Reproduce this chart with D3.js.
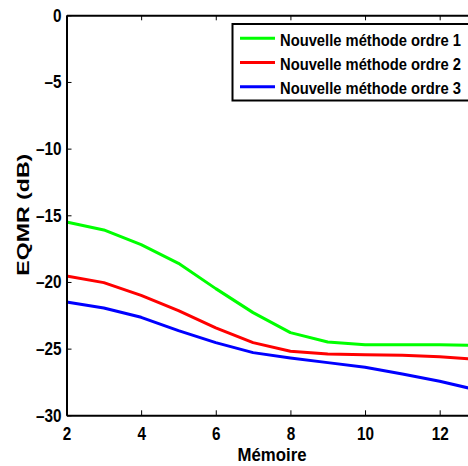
<!DOCTYPE html>
<html>
<head>
<meta charset="utf-8">
<script src="https://cdn.jsdelivr.net/npm/d3@7"></script>
<style>
  html, body { margin: 0; padding: 0; background: #fff; overflow: hidden; }
  text { font-family: "Liberation Sans", Arial, sans-serif; font-weight: bold; }
</style>
</head>
<body>
<div id="viz"></div>
<script>
// memory order (x) and EQMR in dB for each method
const memoire = [2, 3, 4, 5, 6, 7, 8, 9, 10, 11, 12, 13];
const ordre1 = [-15.5, -16.1, -17.2, -18.6, -20.5, -22.3, -23.8, -24.5, -24.7, -24.7, -24.7, -24.75];
const ordre2 = [-19.55, -20.05, -21.0, -22.15, -23.45, -24.55, -25.2, -25.4, -25.45, -25.5, -25.6, -25.8];
const ordre3 = [-21.5, -21.95, -22.65, -23.65, -24.55, -25.3, -25.7, -26.05, -26.4, -26.9, -27.45, -28.1];
const seriesNames = ["Nouvelle méthode ordre 1", "Nouvelle méthode ordre 2", "Nouvelle méthode ordre 3"];
const seriesColors = ["#00ff00", "#ff0000", "#0000ff"];
const xTicks = [2, 4, 6, 8, 10, 12];
const yTicks = [0, -5, -10, -15, -20, -25, -30];

const width = 468, height = 466;
const margin = { left: 66.5, top: 15.3 };
const plotW = 410.5, plotH = 400;

const svg = d3.select("#viz").append("svg")
  .attr("width", width)
  .attr("height", height);

const x = d3.scaleLinear().domain([2, 13]).range([margin.left, margin.left + plotW]);
const y = d3.scaleLinear().domain([-30, 0]).range([margin.top + plotH, margin.top]);

const series = [ordre1, ordre2, ordre3];

// squeeze text horizontally (the original font is a narrow helvetica)
function condense(sel, f) {
  sel.each(function () {
    const w = this.getComputedTextLength();
    this.setAttribute("textLength", w * f);
    this.setAttribute("lengthAdjust", "spacingAndGlyphs");
  });
}

// lines
const line = d3.line()
  .x((d, i) => x(memoire[i]))
  .y(d => y(d));

svg.append("g")
  .selectAll("path")
  .data(series)
  .join("path")
  .attr("d", line)
  .attr("fill", "none")
  .attr("stroke", (d, i) => seriesColors[i])
  .attr("stroke-width", 3)
  .attr("stroke-linejoin", "round");

// axes (ticks inside, matlab style)
const gBottom = svg.append("g")
  .attr("transform", `translate(0,${y(-30)})`)
  .call(d3.axisBottom(x).tickValues(xTicks).tickSizeInner(-5).tickSizeOuter(0).tickPadding(12));
const gTop = svg.append("g")
  .attr("transform", `translate(0,${y(0)})`)
  .call(d3.axisTop(x).tickValues(xTicks).tickSizeInner(-5).tickSizeOuter(0).tickFormat(""));
const gLeft = svg.append("g")
  .attr("transform", `translate(${x(2)},0)`)
  .call(d3.axisLeft(y).tickValues(yTicks).tickSizeInner(-5).tickSizeOuter(0).tickPadding(5)
    .tickFormat(d => d < 0 ? "\u2013" + Math.abs(d) : d));

[gBottom, gTop, gLeft].forEach(g => {
  g.select(".domain").attr("stroke", "#000").attr("stroke-width", 2);
  g.selectAll(".tick line").attr("stroke", "#000").attr("stroke-width", 1);
  g.selectAll("text").attr("fill", "#000").style("font-size", "18px");
});
condense(gBottom.selectAll("text"), 0.85);
condense(gLeft.selectAll("text"), 0.85);

// axis titles
svg.append("text")
  .attr("x", 272)
  .attr("y", 461)
  .attr("text-anchor", "middle")
  .style("font-size", "18.5px")
  .attr("textLength", 69)
  .attr("lengthAdjust", "spacingAndGlyphs")
  .text("Mémoire");

svg.append("text")
  .attr("transform", "translate(29,214.7) rotate(-90)")
  .attr("text-anchor", "middle")
  .style("font-size", "17px")
  .attr("textLength", 122)
  .attr("lengthAdjust", "spacingAndGlyphs")
  .text("EQMR (dB)");

// legend
const legend = svg.append("g");
legend.append("rect")
  .attr("x", 232.5)
  .attr("y", 24)
  .attr("width", 250)
  .attr("height", 76.5)
  .attr("fill", "#fff")
  .attr("stroke", "#000")
  .attr("stroke-width", 2);

const rows = legend.selectAll("g.row")
  .data(seriesNames)
  .join("g")
  .attr("class", "row")
  .attr("transform", (d, i) => `translate(0,${38.3 + i * 24.2})`);
rows.append("line")
  .attr("x1", 240).attr("x2", 275)
  .attr("stroke", (d, i) => seriesColors[i])
  .attr("stroke-width", 3);
rows.append("text")
  .attr("x", 280)
  .attr("dy", 7.5)
  .style("font-size", "16px")
  .attr("textLength", 181)
  .attr("lengthAdjust", "spacingAndGlyphs")
  .text(d => d);
</script>
</body>
</html>
